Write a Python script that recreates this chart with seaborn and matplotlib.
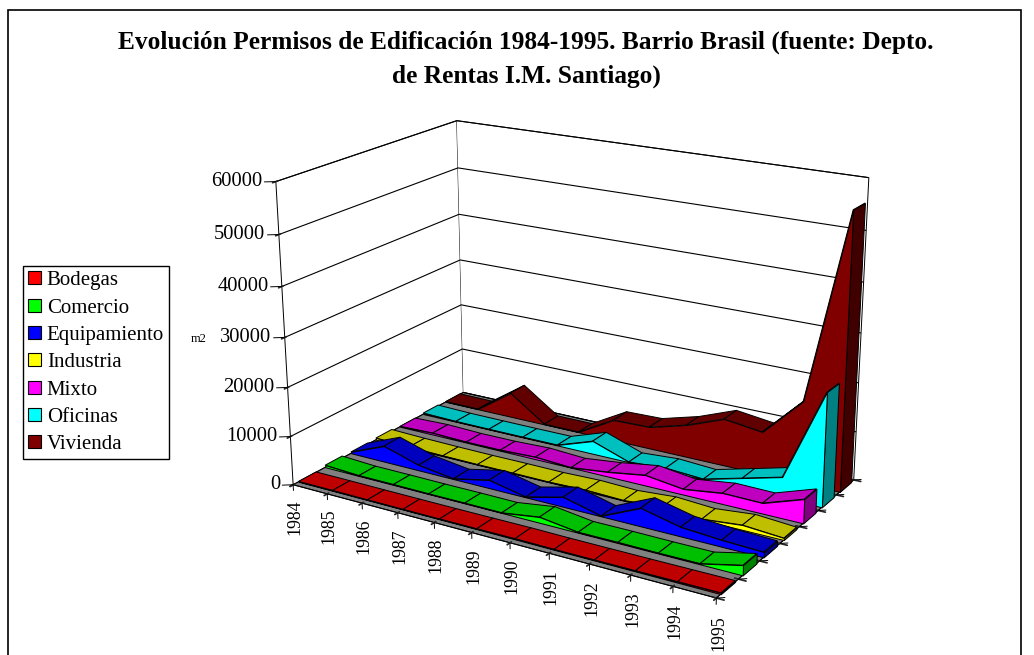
import numpy as np
import matplotlib
matplotlib.use('Agg')
import matplotlib.pyplot as plt
from matplotlib.patches import Patch, Rectangle
from mpl_toolkits.mplot3d.art3d import Poly3DCollection
import seaborn as sns

# Building permits in Barrio Brasil, square metres per year and land use
years = list(range(1984, 1996))
bodegas = [80, 90, 70, 60, 70, 100, 150, 100, 120, 150, 200, 250]
comercio = [450, 100, 100, 60, 80, 50, 1150, 120, 150, 110, 150, 1950]
equipamiento = [300, 3340, 1120, 100, 1680, 100, 1975, 100, 3630, 1840, 1310, 1030]
industria = [390, 200, 100, 50, 80, 55, 275, 50, 630, 170, 950, 390]
mixto = [100, 350, 130, 170, 460, 50, 940, 2160, 1140, 2220, 2120, 4840]
oficinas = [250, 80, 60, 60, 100, 2720, 50, 580, 125, 2190, 4260, 23000]
vivienda = [100, 50, 5300, 60, 50, 4390, 4600, 6750, 9760, 8770, 16750, 55500]
series_names = ['Bodegas', 'Comercio', 'Equipamiento', 'Industria', 'Mixto', 'Oficinas', 'Vivienda']
series_values = [bodegas, comercio, equipamiento, industria, mixto, oficinas, vivienda]
z_ticks = list(range(0, 60001, 10000))
base_colors = ['#ff0000', '#00ff00', '#0000ff', '#ffff00', '#ff00ff', '#00ffff', '#800000']

sns.set_theme(style='white', rc={'axes.linewidth': 0.8})
plt.rcParams['font.family'] = ['Liberation Serif', 'DejaVu Serif']
palette = sns.color_palette(base_colors)

W, H = 1034, 655
fig = plt.figure(figsize=(W / 100, H / 100), dpi=100)
ax = fig.add_axes([0, 0, 1, 1], projection='3d')
ax.computed_zorder = False
ax.set_xlim(1984, 1995, view_margin=0)
ax.set_ylim(0, 7, view_margin=0)
ax.set_zlim(0, 60000, view_margin=0)
ax.set_box_aspect((1.5214, 0.9591, 1))
ax.view_init(elev=19.307, azim=-58.517, roll=0.194)
ax.set_proj_type('persp', focal_length=0.5451)

# Place the axes so one projected unit spans the wanted number of pixels
scale, cx, cy = 3460.62, 573.44, 335.21
vl = ax.viewLim
left, right = cx + vl.x0 * scale, cx + vl.x1 * scale
top, bottom = cy - vl.y1 * scale, cy - vl.y0 * scale
ax.set_position([left / W, 1 - bottom / H, (right - left) / W, (bottom - top) / H])
ax.patch.set_alpha(0)

# Walls and floor
for axis, col in ((ax.xaxis, 'white'), (ax.yaxis, 'white'), (ax.zaxis, '#808080')):
    axis.set_pane_color(matplotlib.colors.to_rgba(col))
    axis.pane.set_edgecolor('black')
    axis.pane.set_linewidth(0.7)
    axis.line.set_color('black')
    axis.line.set_linewidth(0.7)
ax.grid(True)
ax.xaxis._axinfo['grid'].update(color=(0, 0, 0, 0))
ax.yaxis._axinfo['grid'].update(color=(0, 0, 0, 0))
ax.zaxis._axinfo['grid'].update(color='black', linewidth=0.8)

ax.set_xticks(years)
ax.set_xticklabels([str(y) for y in years], rotation=90, fontsize=12.8, color='black', va='top', ha='left')
ax.set_yticks(range(8))
ax.set_yticklabels([])
ax.set_zticks(z_ticks)
ax.set_zticklabels([str(z) for z in z_ticks], fontsize=14.8, color='black', ha='right', va='center')
ax.xaxis.set_tick_params(pad=1)
ax.zaxis.set_tick_params(pad=-2.5)
ax.zaxis.set_ticks_position('lower')
ax.set_zlabel('')

# Outer tick marks on the three axes
for y in years:
    ax.plot([y, y], [0, 0], [0, -1200], color='black', lw=0.7, zorder=0.5)
for z in z_ticks:
    ax.plot([1984, 1983.8], [0, -0.15], [z, z], color='black', lw=0.7, zorder=0.5)
for s in range(8):
    ax.plot([1995, 1995.14], [s, s + 0.11], [0, 0], color='black', lw=0.7, zorder=0.5)

# One extruded band per land use, drawn from the back to the front
band_front, band_back = 0.2, 0.85
for i in range(len(series_names) - 1, -1, -1):
    v = series_values[i]
    c = np.array(palette[i])
    y0, y1 = i + band_front, i + band_back
    tops = [[(years[j], y0, v[j]), (years[j + 1], y0, v[j + 1]),
             (years[j + 1], y1, v[j + 1]), (years[j], y1, v[j])] for j in range(len(years) - 1)]
    front = [[(years[0], y0, 0)] + [(yr, y0, val) for yr, val in zip(years, v)] + [(years[-1], y0, 0)]]
    end = [[(years[-1], y0, 0), (years[-1], y0, v[-1]), (years[-1], y1, v[-1]), (years[-1], y1, 0)]]
    zo = 10 + 3 * (len(series_names) - i)
    for faces, shade, dz in ((tops, 0.75, 0), (end, 0.5, 1), (front, 1.0, 2)):
        ax.add_collection3d(Poly3DCollection(faces, facecolors=[tuple(c * shade)],
                                             edgecolors='black', linewidths=0.7, zorder=zo + dz))

fig.text(199 / W, 1 - 339 / H, 'm2', fontsize=9, ha='center', va='center', color='black')

handles = [Patch(facecolor=palette[i], edgecolor='black', linewidth=0.8) for i in range(len(series_names))]
fig.legend(handles, series_names, loc='upper left', bbox_to_anchor=(23 / W, 1 - 266 / H),
           borderaxespad=0, fontsize=15, fancybox=False, framealpha=1, edgecolor='black',
           handlelength=0.63, handleheight=0.6, handletextpad=0.26, labelspacing=0.4,
           borderpad=0.25, labelcolor='black')

fig.text(526 / W, 1 - 59.5 / H,
         'Evolución Permisos de Edificación 1984-1995. Barrio Brasil (fuente: Depto.\nde Rentas I.M. Santiago)',
         fontsize=18.3, fontweight='bold', ha='center', va='center', linespacing=1.6, color='black')

fig.add_artist(Rectangle((8 / W, -0.1), (1021 - 8) / W, 1.1 - 10 / H, transform=fig.transFigure,
                         facecolor='none', edgecolor='black', linewidth=1.2))
fig.savefig('out.png', dpi=100)
